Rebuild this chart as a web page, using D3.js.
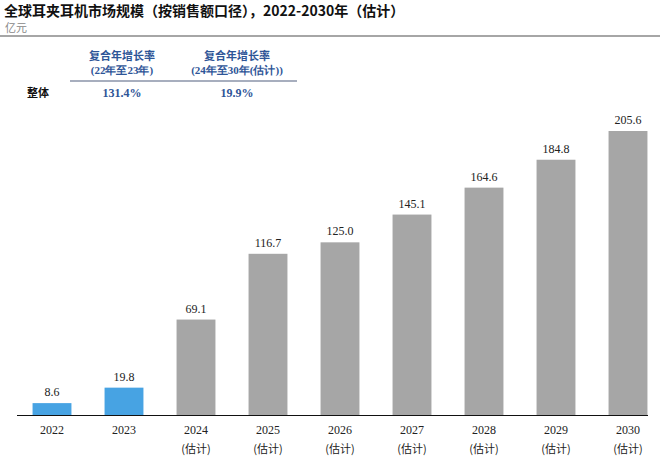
<!DOCTYPE html><html><head><meta charset="utf-8"><script src="https://cdn.jsdelivr.net/npm/d3@7"></script>
<style>body{margin:0;background:#fff}</style></head><body><svg width="660" height="462"></svg><script>
const years=["2022","2023","2024","2025","2026","2027","2028","2029","2030"];
const estimated=[false,false,true,true,true,true,true,true,true];
const values=[8.6,19.8,69.1,116.7,125.0,145.1,164.6,184.8,205.6];
const cagrHeaders=[["复合年增长率","(22年至23年)"],["复合年增长率","(24年至30年(估计))"]];
const cagrValues=["131.4%","19.9%"];
const svg=d3.select("svg");
const num="'Liberation Serif',serif", cjk="'Noto Sans CJK SC',sans-serif";
svg.append("text").attr("x",4).attr("y",16).attr("font-family",cjk).attr("font-weight","bold").attr("font-size",14).attr("fill","#111")
 .text("全球耳夹耳机市场规模（按销售额口径），2022-2030年（估计）");
svg.append("text").attr("x",5).attr("y",32).attr("font-family",cjk).attr("font-size",11).attr("fill","#888").text("亿元");
svg.append("line").attr("x1",0).attr("x2",660).attr("y1",36).attr("y2",36).attr("stroke","#888").attr("stroke-width",1.5);
const cx=[122,237];
cagrHeaders.forEach((h,i)=>{h.forEach((t,j)=>svg.append("text").attr("x",cx[i]).attr("y",60+j*14).attr("text-anchor","middle")
 .attr("font-family",j?num:cjk).attr("font-weight","bold").attr("font-size",11).attr("fill","#2e5597").text(t));
 svg.append("text").attr("x",cx[i]).attr("y",97).attr("text-anchor","middle").attr("font-family",num).attr("font-weight","bold").attr("font-size",12).attr("fill","#2e5597").text(cagrValues[i]);});
svg.append("line").attr("x1",70).attr("x2",297).attr("y1",81).attr("y2",81).attr("stroke","#8a93a8").attr("stroke-width",1.5);
svg.append("text").attr("x",38).attr("y",97).attr("text-anchor","middle").attr("font-family",cjk).attr("font-weight","bold").attr("font-size",11).attr("fill","#111").text("整体");
const x=d3.scaleBand().domain(years).range([16,664]).paddingInner(0.46).paddingOuter(0.23);
const y=d3.scaleLinear().domain([0,205.6]).range([415,131]);
const g=svg.append("g");
g.selectAll("rect").data(values).join("rect").attr("x",(d,i)=>x(years[i])).attr("width",x.bandwidth())
 .attr("y",d=>y(d)).attr("height",d=>y(0)-y(d)).attr("fill",(d,i)=>estimated[i]?"#a6a6a6":"#47a3e3");
g.selectAll("text.v").data(values).join("text").attr("x",(d,i)=>x(years[i])+x.bandwidth()/2).attr("y",d=>y(d)-7)
 .attr("text-anchor","middle").attr("font-family",num).attr("font-size",12).attr("fill","#222").text(d=>d.toFixed(1));
svg.append("line").attr("x1",17).attr("x2",648).attr("y1",415.5).attr("y2",415.5).attr("stroke","#111").attr("stroke-width",1.2);
years.forEach((yr,i)=>{const c=x(yr)+x.bandwidth()/2;
 svg.append("text").attr("x",c).attr("y",434).attr("text-anchor","middle").attr("font-family",num).attr("font-size",12).attr("fill","#222").text(yr);
 if(estimated[i])svg.append("text").attr("x",c).attr("y",453).attr("text-anchor","middle").attr("font-family",cjk).attr("font-size",11).attr("fill","#222").text("(估计)");});
</script></body></html>
